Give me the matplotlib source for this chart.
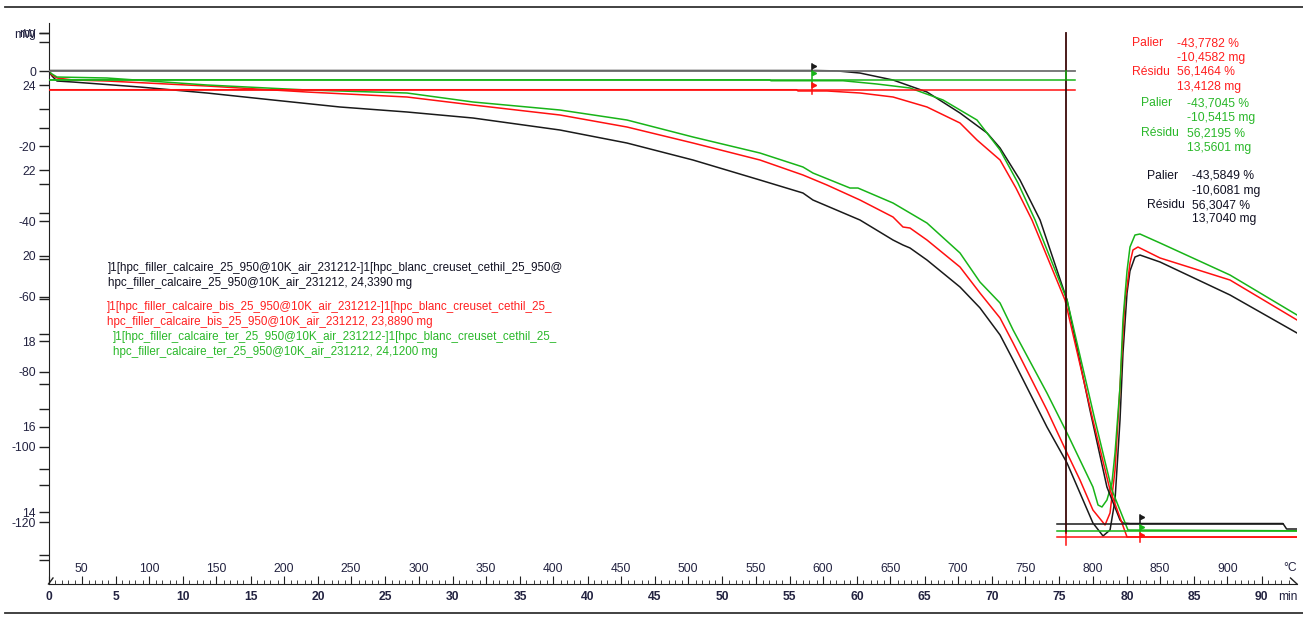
import matplotlib
matplotlib.use('Agg')
import matplotlib.pyplot as plt
from matplotlib.lines import Line2D

# DSC heat flow (mW), time in min
dsc_black_t = [0, 0.26, 0.63, 1.82, 6.79, 11.76, 16.65, 21.62, 26.59, 31.49, 37.94, 42.91, 47.81, 52.78,
               55.97, 56.71, 60.2, 62.65, 63.39, 63.91, 65.17, 67.62, 69.1, 70.59, 71.56, 74.07, 75.56, 76.52,
               77.48, 78.23, 78.75, 79.12, 79.49, 79.71, 80.01, 80.23, 80.6, 80.97, 82.46, 87.65, 92.62]
dsc_black = [0, -1.33, -2.66, -2.93, -4.26, -5.85, -7.71, -9.57, -10.9, -12.5, -15.69, -19.15, -23.67, -28.99,
             -32.45, -34.31, -39.63, -44.95, -46.28, -47.07, -50.27, -57.45, -63.0, -70.2, -76.86, -94.68, -104.26,
             -112.23, -120.21, -123.67, -122.07, -114.1, -92.82, -75.0, -59.04, -53.19, -49.47, -48.94, -50.8,
             -59.57, -69.68]

dsc_red_t = [0, 0.26, 0.63, 1.82, 4.34, 11.76, 19.18, 26.59, 31.49, 37.94, 42.91, 47.81, 52.78, 55.97,
             57.75, 60.2, 62.65, 63.39, 63.91, 65.17, 67.62, 69.1, 70.59, 71.56, 74.07, 75.56, 76.52, 77.48,
             78.38, 78.75, 79.12, 79.49, 79.86, 80.01, 80.23, 80.45, 80.82, 82.46, 87.65, 92.62]
dsc_red = [0, -1.06, -1.86, -2.39, -2.66, -3.99, -5.59, -6.91, -9.04, -11.7, -14.89, -19.15, -23.67, -27.66,
           -30.32, -34.31, -38.83, -41.49, -41.76, -44.95, -52.13, -59.04, -65.69, -72.34, -90.16, -101.6,
           -108.78, -116.76, -120.74, -117.55, -106.12, -84.04, -60.9, -57.45, -51.06, -47.61, -46.81, -49.73,
           -55.59, -66.22]

dsc_green_t = [0, 0.26, 0.63, 4.34, 11.76, 19.18, 26.59, 31.49, 37.94, 42.91, 47.81, 52.78, 55.97, 56.71,
               59.46, 60.05, 62.65, 65.17, 67.62, 69.1, 70.59, 71.56, 74.07, 75.56, 76.52, 77.48, 77.86, 78.15,
               78.52, 78.89, 79.12, 79.49, 79.71, 80.01, 80.23, 80.6, 80.97, 82.46, 87.65, 92.62]
dsc_green = [0, -0.8, -1.6, -1.86, -3.72, -5.05, -5.85, -8.24, -10.37, -13.03, -17.55, -21.81, -25.53, -27.13,
             -31.12, -31.12, -35.11, -40.43, -48.4, -56.12, -61.7, -68.88, -85.64, -96.28, -103.46, -110.64,
             -115.43, -115.96, -114.1, -109.57, -101.6, -84.04, -66.22, -53.19, -46.81, -43.62, -43.35, -45.74,
             -54.26, -64.89]

# TG mass (mg)
tg_black_t = [0, 57.0, 58.49, 60.2, 62.65, 65.17, 67.62, 69.63, 70.59, 72.07, 73.56, 75.56, 77.26, 78.52,
              79.49, 79.71, 80.23, 91.58, 91.85, 92.62]
tg_black = [24.339, 24.339, 24.33, 24.28, 24.117, 23.836, 23.344, 22.876, 22.525, 21.775, 20.838, 18.965,
            16.389, 14.585, 13.813, 13.742, 13.73, 13.73, 13.602, 13.602]

tg_red_t = [0, 55.5, 55.6, 57.75, 60.2, 62.65, 65.17, 67.62, 68.88, 70.59, 71.77, 72.96, 75.41, 77.48,
            78.75, 80.01, 92.62]
tg_red = [23.889, 23.889, 23.86, 23.86, 23.813, 23.719, 23.485, 23.11, 22.712, 22.244, 21.588, 20.838,
          18.965, 16.155, 14.515, 13.415, 13.4128]

tg_green_t = [0, 53.5, 53.6, 58.94, 61.46, 63.91, 66.36, 68.88, 70.59, 71.92, 73.19, 75.56, 77.63, 78.89,
              80.08, 92.62]
tg_green = [24.12, 24.12, 24.10, 24.10, 24.023, 23.93, 23.649, 23.18, 22.478, 21.705, 20.838, 18.965,
            16.155, 14.515, 13.578, 13.5601]

# palier / residu levels and cursor times
start_mass = {'black': 24.339, 'red': 23.889, 'green': 24.12}
end_mass = {'black': 13.73, 'red': 13.4128, 'green': 13.5601}
t_start_cursor = 56.64
t_end_cursor = 80.97
t_line = 75.48

mw_ticks = [-130, -120, -110, -100, -90, -80, -70, -60, -50, -40, -30, -20, -10, 0, 10]
mg_ticks = [13, 14, 15, 16, 17, 18, 19, 20, 21, 22, 23, 24, 25]
time_ticks = list(range(0, 91, 5))
temp_ticks = list(range(50, 901, 50))

legend_lines = [
    (']1[hpc_filler_calcaire_25_950@10K_air_231212-]1[hpc_blanc_creuset_cethil_25_950@', 'black'),
    ('hpc_filler_calcaire_25_950@10K_air_231212, 24,3390 mg', 'black'),
    (']1[hpc_filler_calcaire_bis_25_950@10K_air_231212-]1[hpc_blanc_creuset_cethil_25_', 'red'),
    ('hpc_filler_calcaire_bis_25_950@10K_air_231212, 23,8890 mg', 'red'),
    (']1[hpc_filler_calcaire_ter_25_950@10K_air_231212-]1[hpc_blanc_creuset_cethil_25_', 'green'),
    ('hpc_filler_calcaire_ter_25_950@10K_air_231212, 24,1200 mg', 'green'),
]
results = {
    'red': ['-43,7782 %', '-10,4582 mg', '56,1464 %', '13,4128 mg'],
    'green': ['-43,7045 %', '-10,5415 mg', '56,2195 %', '13,5601 mg'],
    'black': ['-43,5849 %', '-10,6081 mg', '56,3047 %', '13,7040 mg'],
}

colors = {'black': '#1a1a1a', 'red': '#ff1010', 'green': '#18b418'}
text_colors = {'black': '#111122', 'red': '#ff2020', 'green': '#2ab82a'}
label_color = '#222240'

plt.rcParams['font.family'] = ['Liberation Sans', 'DejaVu Sans']

W, H = 1303, 617
fig = plt.figure(figsize=(W / 100, H / 100), dpi=100)
ax = fig.add_axes([48.5 / W, 1 - 584 / H, (1297 - 48.5) / W, (584 - 23) / H])
ax.set_xlim(0, 92.62)
ax.set_ylim(-136.44, 12.77)
ax2 = ax.twinx()
ax2.set_ylim(12.314, 25.452)

for s in ['top', 'right']:
    ax.spines[s].set_visible(False)
for s in ax2.spines:
    ax2.spines[s].set_visible(False)
ax.spines['left'].set_color('#202020')
ax.spines['bottom'].set_color('#202020')

# DSC curves
ax.plot(dsc_black_t, dsc_black, color=colors['black'], lw=1.1)
ax.plot(dsc_red_t, dsc_red, color=colors['red'], lw=1.1)
ax.plot(dsc_green_t, dsc_green, color=colors['green'], lw=1.1)

# TG curves
ax2.plot(tg_black_t, tg_black, color=colors['black'], lw=1.1)
ax2.plot(tg_red_t, tg_red, color=colors['red'], lw=1.1)
ax2.plot(tg_green_t, tg_green, color=colors['green'], lw=1.1)

# palier lines
ax2.plot([0, 76.15], [start_mass['black']] * 2, color='#707070', lw=1.3)
ax2.plot([0, 76.15], [start_mass['green']] * 2, color=colors['green'], lw=1.1)
ax2.plot([0, 76.15], [start_mass['red']] * 2, color=colors['red'], lw=1.1)
ax2.plot([74.8, 91.58], [end_mass['black']] * 2, color=colors['black'], lw=1.1)
ax2.plot([74.8, 92.62], [end_mass['green']] * 2, color=colors['green'], lw=1.1)
ax2.plot([74.8, 92.62], [end_mass['red']] * 2, color=colors['red'], lw=1.1)

# cursors
ax2.plot([t_line, t_line], [13.508, 25.218], color='#3a0808', lw=1.3)
ax2.plot([t_line, t_line], [13.227, 13.508], color=colors['red'], lw=1.1)
ax2.plot([t_line, t_line], [24.117, 24.328], color=colors['green'], lw=1.1)
for t, segs in [(t_start_cursor, [('black', 24.49, 24.33), ('green', 24.33, 23.95), ('red', 24.05, 23.80)]),
                (t_end_cursor, [('black', 13.93, 13.70), ('green', 13.70, 13.51), ('red', 13.51, 13.30)])]:
    for c, y0, y1 in segs:
        ax2.plot([t, t], [y0, y1], color=colors[c], lw=1.1)
        ax2.plot([t + 0.12], [y0 - 0.05], marker='>', ms=3, color=colors[c])

# y ticks, mW and mg on the same left axis
mw_labels = ['mW' if v == 10 else (str(v) if v % 20 == 0 else '') for v in mw_ticks]
ax.set_yticks(mw_ticks, mw_labels)
mg_labels = [str(v) if v % 2 == 0 else '' for v in mg_ticks]
ax2.set_yticks(mg_ticks + [25.218], mg_labels + ['mg'])
ax2.yaxis.set_ticks_position('left')
ax2.yaxis.set_label_position('left')
for a in (ax, ax2):
    a.tick_params(axis='y', direction='out', length=7, width=1, pad=2, labelsize=8.7,
                  labelcolor=label_color, color='#202020')

# time axis (min), ticks inside, labels under the line
ax.set_xticks(time_ticks)
ax.set_xticks(range(0, 93), minor=True)
ax.tick_params(axis='x', which='major', direction='in', length=6, pad=5, labelsize=8.7,
               labelcolor=label_color, color='#202020')
ax.tick_params(axis='x', which='minor', direction='in', length=3, color='#202020')
for lab in ax.get_xticklabels():
    lab.set_fontweight('bold')
ax.text(91.95, -0.024, 'min', transform=ax.get_xaxis_transform(), ha='center', va='center',
        fontsize=8.7, color=label_color)

# temperature axis (°C) on the same line, labels above it
sec = ax.secondary_xaxis('bottom', functions=(lambda t: 25.5 + 10 * t, lambda T: (T - 25.5) / 10))
sec.set_xticks(temp_ticks)
sec.set_xticks(range(30, 950, 10), minor=True)
sec.tick_params(axis='x', which='major', direction='in', length=6, pad=-15, labelsize=8.7,
                labelcolor=label_color, color='#202020')
sec.tick_params(axis='x', which='minor', direction='in', length=3, color='#202020')
sec.spines['bottom'].set_visible(False)
ax.text(92.1, 0.029, '°C', transform=ax.get_xaxis_transform(), ha='center', va='center',
        fontsize=8.7, color=label_color)

# little slanted ends of the time axis
ax.plot([0, 0.0036], [0, 0.0107], transform=ax.transAxes, color='#202020', lw=1, clip_on=False)
ax.plot([0.9948, 1.0], [0.0107, 0], transform=ax.transAxes, color='#202020', lw=1, clip_on=False)

# sample legend
legend_pos = [(108, 268), (108, 283), (107, 307), (107, 322), (113, 337), (113, 352)]
for (s, c), (x, y) in zip(legend_lines, legend_pos):
    fig.text(x / W, 1 - y / H, s, color=text_colors[c], fontsize=8.4, ha='left', va='center')

# palier / residu results
blocks = {'red': (1132, 1177, [43, 58, 72, 87]),
          'green': (1141, 1187, [103, 118, 133, 148]),
          'black': (1147, 1192, [176, 191, 205, 219])}
for c, (xl, xv, ys) in blocks.items():
    fig.text(xl / W, 1 - ys[0] / H, 'Palier', color=text_colors[c], fontsize=8.7, va='center')
    fig.text(xl / W, 1 - ys[2] / H, 'Résidu', color=text_colors[c], fontsize=8.7, va='center')
    for v, y in zip(results[c], ys):
        fig.text(xv / W, 1 - y / H, v, color=text_colors[c], fontsize=8.7, va='center')

# frame lines of the window
fig.add_artist(Line2D([5 / W, 1], [1 - 7 / H] * 2, transform=fig.transFigure, color='#333333', lw=1.3))
fig.add_artist(Line2D([5 / W, 1], [1 - 612.5 / H] * 2, transform=fig.transFigure, color='#333333', lw=1.3))

fig.savefig('out.png', dpi=100)
